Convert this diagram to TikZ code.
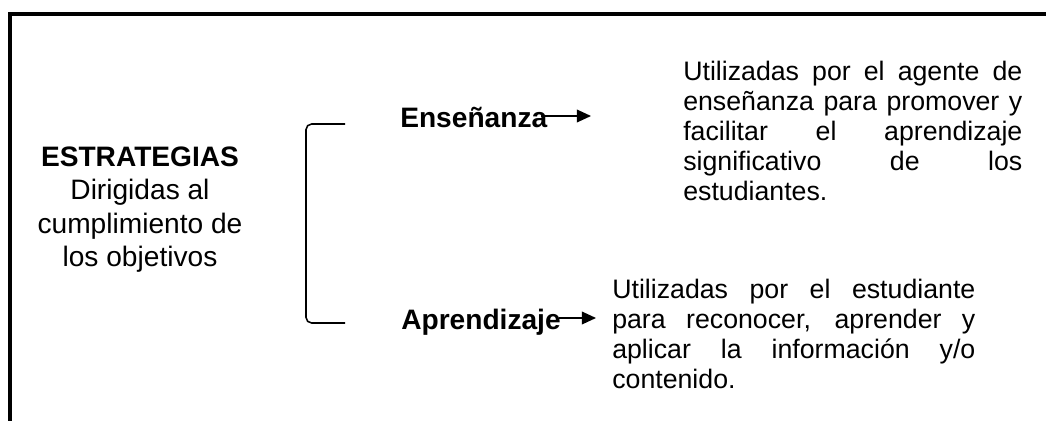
\documentclass[tikz,border=0pt]{standalone}
\usepackage{fontspec}
\setmainfont{Liberation Sans}
\usepackage{tikz}
\usetikzlibrary{
  positioning,
  arrows.meta
}
\definecolor{inkline}{RGB}{0,0,0}
\tikzset{
  framestroke/.style={
    draw=inkline, line width=0.1cm, line join=miter
  },
  bracestroke/.style={
    draw=inkline, line width=1.1pt, rounded corners=4pt
  },
  titlenode/.style={
    inner sep=0pt, align=center, anchor=north,
    font=\fontsize{20}{23.5}\selectfont
  },
  kindnode/.style={
    inner sep=0pt, anchor=base west,
    font=\fontsize{20}{23}\selectfont\bfseries
  },
  descnode/.style={
    inner sep=0pt, anchor=north west, align=justify,
    font=\fontsize{19}{21.3}\selectfont
  },
  kindarrow/.style={
    -{Triangle[length=10pt,width=9pt]}, line width=1pt, draw=inkline
  }
}

\begin{document}
\begin{tikzpicture}[x=0.025cm, y=-0.025cm]
        \useasboundingbox (0,0) rectangle (1046,421);
        % outer frame (top and left only)
        \draw[framestroke] (10,421) -- (10,14) -- (1046,14);
        % left title
        \node[titlenode] (strat) at (140,147) {
          \textbf{ESTRATEGIAS}\\
          Dirigidas al\\
          cumplimiento de\\
          los objetivos
        };
        % bracket
        \draw[bracestroke] (345,124) -- (306,124) -- (306,323) -- (345,323);
        % the two kinds
        \node[kindnode] (ense) at (400,127) {Enseñanza};
        \node[kindnode] (apre) at (401,329) {Aprendizaje};
        \coordinate (enseTip) at (591,116);
        \coordinate (apreTip) at (596,318);
        \draw[kindarrow] ([xshift=-0.15cm]ense.east |- enseTip) -- (enseTip);
        \draw[kindarrow] ([xshift=-0.05cm]apre.east |- apreTip) -- (apreTip);
        % descriptions
        \node[descnode, text width=8.475cm] (enseDesc) at (683,61) {
          Utilizadas por el agente de\linebreak
          enseñanza para promover y\linebreak
          facilitar el aprendizaje\linebreak
          significativo de los\linebreak
          estudiantes.
        };
        \node[descnode, text width=9.075cm] (apreDesc) at (612,279) {
          Utilizadas por el estudiante\linebreak
          para reconocer, aprender y\linebreak
          aplicar la información y/o\linebreak
          contenido.
        };
      \end{tikzpicture}
\end{document}
